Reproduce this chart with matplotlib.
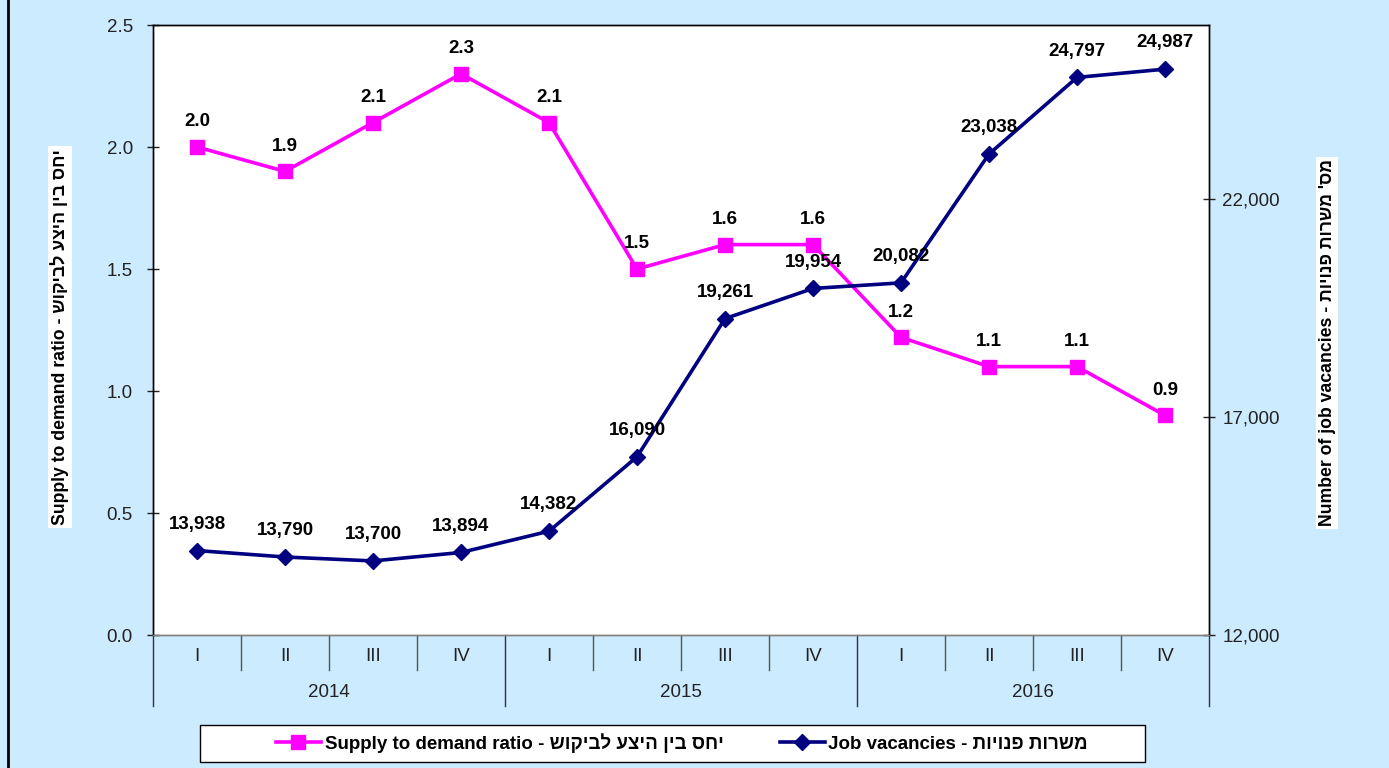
import matplotlib
matplotlib.use("Agg")
from matplotlib import pyplot as plt, patches
from matplotlib.lines import Line2D
import matplotlib.transforms as mtransforms
import matplotlib.ticker as mticker
import numpy as np

plt.rcParams['font.family'] = ['Liberation Sans', 'DejaVu Sans']

# data
quarters = ['I', 'II', 'III', 'IV'] * 3
years = ['2014', '2015', '2016']
ratio = [2.0, 1.9, 2.1, 2.3, 2.1, 1.5, 1.6, 1.6, 1.22, 1.1, 1.1, 0.9]
vacancies = [13938, 13790, 13700, 13894, 14382, 16090, 19261, 19954,
             20082, 23038, 24797, 24987]

# hebrew parts are written in visual (left-to-right) order
ratio_label = 'Supply to demand ratio - ' + 'יחס בין היצע לביקוש'[::-1]
vac_legend = 'Job vacancies - ' + 'משרות פנויות'[::-1]
vac_axis_label = 'Number of job vacancies - ' + "מס' משרות פנויות"[::-1]

bg = '#CCEBFF'
pink = '#FF00FF'
navy = '#000080'

fig = plt.figure(figsize=(13.89, 7.68), dpi=100, facecolor=bg)
W, H = 1389, 768
ax = fig.add_axes([153 / W, 1 - 635 / H, 1056 / W, 610 / H])
ax2 = ax.twinx()

x = np.arange(len(ratio))

ax.plot(x, ratio, color=pink, lw=2.6, marker='s', ms=10.5, zorder=3)
ax2.plot(x, vacancies, color=navy, lw=2.6, marker='D', ms=8.5, zorder=3)

for xi, v in zip(x, ratio):
    ax.annotate(f'{v:.1f}', (xi, v), xytext=(0, 18), textcoords='offset points',
                ha='center', va='center', fontsize=13.5, fontweight='bold')
for xi, v in zip(x, vacancies):
    ax2.annotate(f'{v:,}', (xi, v), xytext=(0, 19), textcoords='offset points',
                 ha='center', va='center', fontsize=13.5, fontweight='bold')

ax.set_xlim(-0.5, len(ratio) - 0.5)
ax.set_ylim(0, 2.5)
ax.set_yticks(np.arange(0, 2.51, 0.5))
ax.yaxis.set_major_formatter(mticker.FormatStrFormatter('%.1f'))
ax2.set_ylim(12000, 26000)
ax2.set_yticks([12000, 17000, 22000])
ax2.yaxis.set_major_formatter(mticker.StrMethodFormatter('{x:,.0f}'))

ax.set_xticks([])
ax.tick_params(axis='y', direction='inout', length=9, width=1, pad=10,
               labelsize=13.5, colors='#222222')
ax2.tick_params(axis='y', direction='inout', length=9, width=1, pad=5,
                labelsize=13.5, colors='#222222')

for a in (ax, ax2):
    for s in a.spines.values():
        s.set_color('black')
        s.set_linewidth(1)
    a.spines['bottom'].set_color('#808080')
ax.set_facecolor('white')

# category axis: quarters and years
trans = mtransforms.blended_transform_factory(ax.transData, ax.transAxes)
for xi, q in zip(x, quarters):
    ax.text(xi, -0.036, q, transform=trans, ha='center', va='center',
            fontsize=13.5, color='#222222')
for i, yr in enumerate(years):
    ax.text(i * 4 + 1.5, -0.094, yr, transform=trans, ha='center', va='center',
            fontsize=13.5, color='#222222')
for b in np.arange(0.5, 11, 1):
    if (b + 0.5) % 4 == 0:
        continue
    ax.plot([b, b], [0, -0.057], transform=trans, color='#555555', lw=1,
            clip_on=False)
for b in [-0.5, 3.5, 7.5, 11.5]:
    ax.plot([b, b], [0, -0.116], transform=trans, color='#333333', lw=1,
            clip_on=False)

# axis titles
fig.text(60 / W, 1 - 337 / H, ratio_label, rotation=90, ha='center', va='center',
         fontsize=12.7, fontweight='bold',
         bbox=dict(facecolor='white', edgecolor='none', pad=2))
fig.text(1327 / W, 1 - 343 / H, vac_axis_label, rotation=90, ha='center',
         va='center', fontsize=12.7, fontweight='bold',
         bbox=dict(facecolor='white', edgecolor='none', pad=2))

# legend
box = patches.Rectangle((200 / W, 1 - 762 / H), 945 / W, 37 / H,
                        transform=fig.transFigure, facecolor='white',
                        edgecolor='black', lw=1)
fig.add_artist(box)
handles = [Line2D([], [], color=pink, lw=2.6, marker='s', ms=10),
           Line2D([], [], color=navy, lw=2.6, marker='D', ms=8)]
fig.legend(handles, [ratio_label, vac_legend], loc='center',
           bbox_to_anchor=(682 / W, 1 - 743 / H), ncol=2, frameon=False,
           prop={'size': 13.5, 'weight': 'bold'}, handlelength=2.4,
           handletextpad=0.2, columnspacing=3)

fig.add_artist(Line2D([8 / W, 8 / W], [0, 1], color='black', lw=2,
                      transform=fig.transFigure))

fig.savefig('out.png', dpi=100, facecolor=bg)
